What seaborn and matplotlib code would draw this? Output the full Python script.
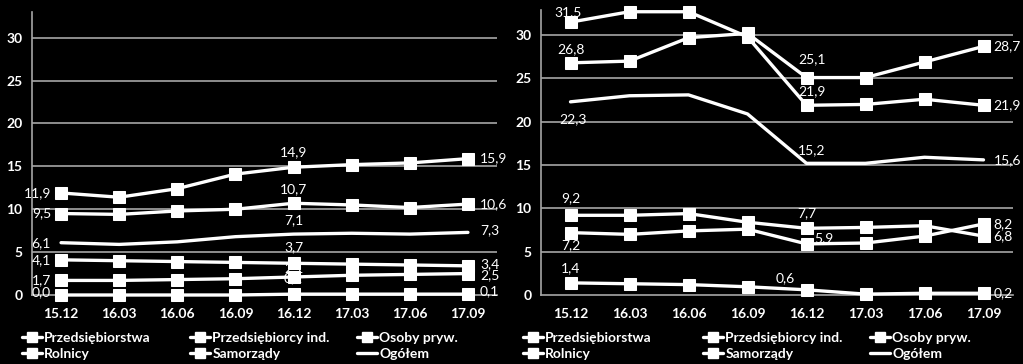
import matplotlib
matplotlib.use("Agg")
import matplotlib.pyplot as plt
from matplotlib.lines import Line2D
import pandas as pd
import seaborn as sns

quarters = ["15.12", "16.03", "16.06", "16.09", "16.12", "17.03", "17.06", "17.09"]
series_names = ["Przedsiębiorstwa", "Przedsiębiorcy ind.", "Osoby pryw.",
                "Rolnicy", "Samorządy", "Ogółem"]

# left panel
left_przeds = [11.9, 11.4, 12.4, 14.1, 14.9, 15.2, 15.4, 15.9]
left_przind = [9.5, 9.4, 9.8, 10.0, 10.7, 10.5, 10.2, 10.6]
left_osoby = [4.1, 4.0, 3.9, 3.8, 3.7, 3.6, 3.5, 3.4]
left_rolnicy = [1.7, 1.7, 1.8, 1.9, 2.1, 2.3, 2.4, 2.5]
left_samorz = [0.0, 0.0, 0.0, 0.0, 0.1, 0.1, 0.1, 0.1]
left_ogolem = [6.1, 5.9, 6.2, 6.8, 7.1, 7.2, 7.1, 7.3]

# right panel
right_przeds = [31.5, 32.7, 32.7, 29.8, 21.9, 22.0, 22.6, 21.9]
right_przind = [26.8, 27.0, 29.7, 30.2, 25.1, 25.1, 26.9, 28.7]
right_osoby = [9.2, 9.2, 9.4, 8.4, 7.7, 7.8, 8.0, 6.8]
right_rolnicy = [7.2, 7.0, 7.4, 7.6, 5.9, 6.0, 6.8, 8.2]
right_samorz = [1.4, 1.3, 1.2, 0.95, 0.6, 0.1, 0.2, 0.2]
right_ogolem = [22.3, 23.0, 23.1, 20.9, 15.2, 15.2, 15.9, 15.6]

left_data = [left_przeds, left_przind, left_osoby, left_rolnicy, left_samorz, left_ogolem]
right_data = [right_przeds, right_przind, right_osoby, right_rolnicy, right_samorz, right_ogolem]

# labels: (series index, point index, offset x px, offset y px, ha, va)
left_labels = [
    (0, 0, -10, 0, "right", "center"), (1, 0, -10, 0, "right", "center"),
    (5, 0, -10, 0, "right", "center"), (2, 0, -10, 0, "right", "center"),
    (3, 0, -10, 0, "right", "center"), (4, 0, -10, 3, "right", "center"),
    (0, 4, 0, 15, "center", "center"), (1, 4, 0, 14, "center", "center"),
    (5, 4, 0, 14, "center", "center"), (2, 4, 0, 16, "center", "center"),
    (3, 4, 0, 9, "center", "center"), (4, 4, 0, 16, "center", "center"),
    (0, 7, 12, 0, "left", "center"), (1, 7, 12, 0, "left", "center"),
    (5, 7, 12, 2, "left", "center"), (2, 7, 12, 2, "left", "center"),
    (3, 7, 12, -2, "left", "center"), (4, 7, 12, 3, "left", "center"),
]
right_labels = [
    (0, 0, -2, 10, "center", "center"), (1, 0, 0, 14, "center", "center"),
    (5, 0, 2, -17, "center", "center"), (2, 0, 0, 17, "center", "center"),
    (3, 0, 0, -13, "center", "center"), (4, 0, 0, 15, "center", "center"),
    (1, 4, 6, 18, "center", "center"), (0, 4, 5, 14, "center", "center"),
    (5, 4, 5, 13, "center", "center"), (2, 4, 0, 15, "center", "center"),
    (3, 4, 8, 6, "left", "center"), (4, 4, -12, 12, "right", "center"),
    (1, 7, 10, 0, "left", "center"), (0, 7, 10, 0, "left", "center"),
    (5, 7, 10, 0, "left", "center"), (3, 7, 10, 0, "left", "center"),
    (2, 7, 10, 0, "left", "center"), (4, 7, 10, 0, "left", "center"),
]

sns.set_theme(style="dark", rc={
    "figure.facecolor": "black", "axes.facecolor": "black",
    "savefig.facecolor": "black", "text.color": "white",
})
plt.rcParams["font.family"] = ["Lato", "DejaVu Sans"]

fig = plt.figure(figsize=(10.23, 3.64), dpi=100)
ax_l = fig.add_axes([32 / 1023, 69 / 364, 465 / 1023, 283 / 364])
ax_r = fig.add_axes([541 / 1023, 69 / 364, 472 / 1023, 285 / 364])

grid_col = "#a6a6a6"


def draw_panel(ax, data, labels, top):
    frames = []
    for name, vals in zip(series_names, data):
        frames.append(pd.DataFrame({"x": range(len(quarters)), "y": vals, "s": name}))
    df = pd.concat(frames)
    for name in series_names:
        sub = df[df["s"] == name]
        sns.lineplot(data=sub, x="x", y="y", ax=ax, color="white", lw=2.4,
                     marker=None if name == "Ogółem" else "s", markersize=8,
                     markeredgecolor="white", clip_on=False, zorder=3)
    ax.set_xlim(-0.5, len(quarters) - 0.5)
    ax.set_ylim(0, top)
    ax.set_yticks(range(0, 31, 5))
    ax.set_xticks(range(len(quarters)))
    ax.set_xticklabels(quarters)
    ax.set_xticks([i - 0.5 for i in range(len(quarters) + 1)], minor=True)
    for v in range(5, 31, 5):
        ax.axhline(v, color=grid_col, lw=1.2, zorder=1)
    for s in ["top", "right"]:
        ax.spines[s].set_visible(False)
    ax.spines["left"].set_color(grid_col)
    ax.spines["bottom"].set_color(grid_col)
    ax.spines["left"].set_linewidth(1.2)
    ax.spines["bottom"].set_linewidth(1.2)
    ax.tick_params(axis="x", which="major", length=0, pad=9, labelcolor="white",
                   labelsize=10)
    ax.tick_params(axis="x", which="minor", length=6, direction="inout",
                   color=grid_col, width=1.2)
    ax.tick_params(axis="y", length=4, direction="out", color=grid_col, width=1.2,
                   pad=3, labelcolor="white", labelsize=10)
    for t in ax.get_xticklabels() + ax.get_yticklabels():
        t.set_fontweight("bold")
    ax.set_xlabel("")
    ax.set_ylabel("")
    ax.grid(False)
    for si, pi, dx, dy, ha, va in labels:
        val = data[si][pi]
        ax.annotate(f"{val:.1f}".replace(".", ","), (pi, val), xytext=(dx * 0.72, dy * 0.72),
                    textcoords="offset points", ha=ha, va=va, color="white",
                    fontsize=10, annotation_clip=False, zorder=4)


draw_panel(ax_l, left_data, left_labels, 33.0)
draw_panel(ax_r, right_data, right_labels, 32.9)


def handle(name):
    if name == "Ogółem":
        return Line2D([], [], color="white", lw=2.4)
    return Line2D([], [], color="white", lw=2.4, marker="s", markersize=7)


def add_legend(col_x):
    for c in range(3):
        names = [series_names[c], series_names[c + 3]]
        leg = fig.legend([handle(n) for n in names], names, loc="center left",
                         bbox_to_anchor=(col_x[c] / 1023, (364 - 346) / 364),
                         bbox_transform=fig.transFigure, frameon=False,
                         handlelength=1.45, handletextpad=0.15, labelspacing=0.3,
                         borderaxespad=0, borderpad=0,
                         prop={"weight": "bold", "size": 10})
        for t in leg.get_texts():
            t.set_color("white")


add_legend([22, 190, 357])
add_legend([523, 703, 870])

fig.savefig("out.png", dpi=100, facecolor="black")
